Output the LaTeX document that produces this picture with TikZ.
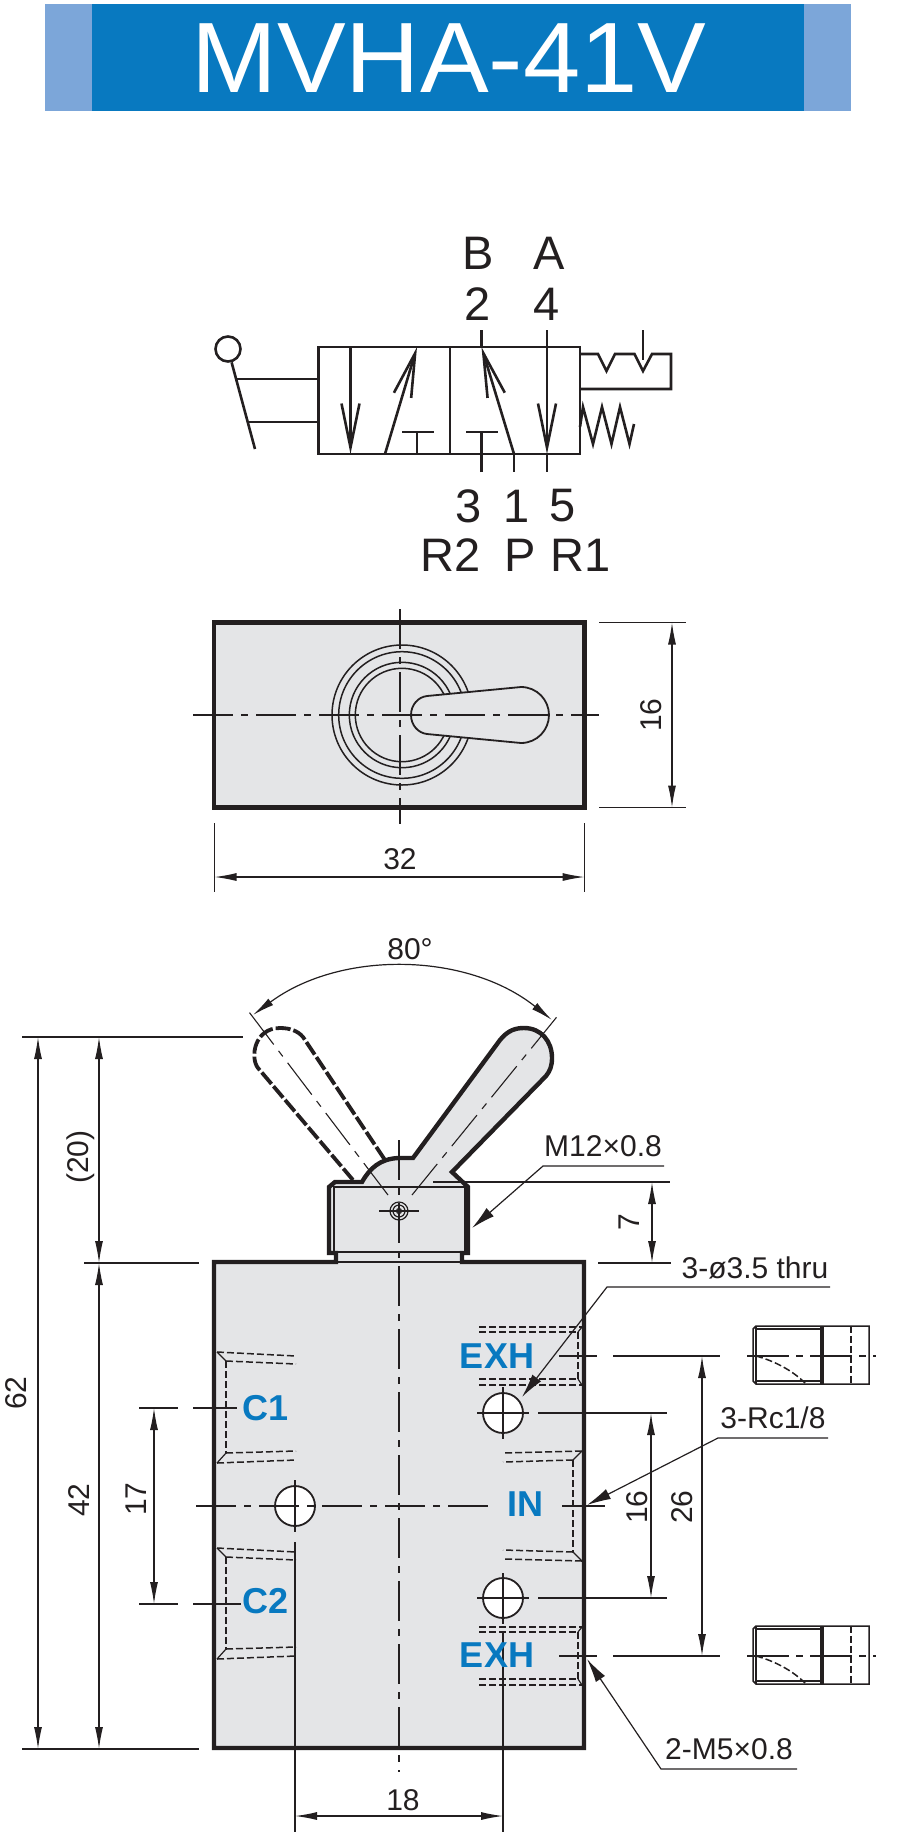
\documentclass[tikz,border=0pt]{standalone}
\usepackage{fontspec}
\setmainfont{Liberation Sans}
\usetikzlibrary{arrows.meta}
\definecolor{myblue}{HTML}{0879C0}
\definecolor{mylight}{HTML}{7CA6D9}
\definecolor{mygray}{HTML}{E4E5E7}
\definecolor{myink}{HTML}{231F20}
\tikzset{
  thinline/.style ={line width=1.2pt, color=myink},
  symline/.style ={line width=2.6pt, color=myink},
  bodyline/.style ={line width=4.4pt, color=myink, fill=mygray, miter limit=4},
  hiddenline/.style ={line width=1.5pt, color=myink, dash pattern=on 7pt off 3pt},
  ghostline/.style ={line width=3.8pt, color=myink, dash pattern=on 15pt off 3pt},
  centerline/.style ={line width=1.1pt, color=myink, dash pattern=on 40pt off 8pt on 7pt off 8pt},
  dimline/.style ={line width=1.2pt, color=myink, {Latex[length=22pt,width=8pt]}-{Latex[length=22pt,width=8pt]}},
  leaderline/.style ={line width=1.2pt, color=myink, -{Latex[length=24pt,width=11pt]}},
  symarrow/.style ={symline, -{Straight Barb[length=44pt,width=18pt]}},
  symtext/.style ={inner sep=0, text=myink, font=\fontsize{47}{50}\selectfont},
  dimtext/.style ={inner sep=0, text=myink, font=\fontsize{30}{33}\selectfont},
  porttext/.style ={inner sep=0, text=myblue, font=\fontsize{36}{38}\selectfont\bfseries},
}
\begin{document}
\begin{tikzpicture}[x=1pt, y=-1pt]
\useasboundingbox (0,0) rectangle (898,1832);
% title bar
\fill[mylight] (45,4) rectangle (851,111);
\fill[myblue] (92,4) rectangle (804,111);
\node[inner sep=0, text=white, xscale=1.03, font=\fontsize{100}{104}\selectfont] (titleBar) at (449,58) {MVHA-41V};

% valve symbol
\coordinate (boxA) at (318.5,347);
\coordinate (boxB) at (580,454);
\draw[symline] (boxA) rectangle (boxB);
\draw[symline] (450,347) -- (450,454);
\draw[symarrow] (350.5,347) -- (350.5,454);
\draw[symarrow] (385,454) -- (417,347);
\draw[symline] (417,454) -- (417,432) (402,432) -- (434,432);
\draw[symline] (481.5,472) -- (481.5,432) (466,432) -- (498,432);
\draw[symarrow] (514,454) -- (481.5,347);
\draw[symline] (481.5,330) -- (481.5,347);
\draw[symarrow] (547,330) -- (547,454);
\draw[symline] (547,454) -- (547,472) (514,454) -- (514,472);
\node[draw=myink, line width=2.6pt, circle, inner sep=0, minimum size=25pt] (leverBall) at (228,349) {};
\coordinate (leverEnd) at (255,449);
\draw[symline] (leverBall) -- (leverEnd);
\draw[symline] (236.5,379) -- (318.5,379) (249,422) -- (318.5,422);
\draw[symline] (580,354) -- (598,354) -- (606.5,371) -- (615,354) -- (634.5,354) -- (643,371) -- (652,354) -- (671,354) -- (671,389) -- (580,389);
\draw[symline] (643,330) -- (643,360);
\draw[symline] (580,427) -- (583,407) -- (593,444) -- (602,407) -- (611.5,444) -- (620,407) -- (629.5,444) -- (634,424);
\node[symtext] (noteB) at (478,253) {B};
\node[symtext] (noteA) at (549,253) {A};
\node[symtext] (noteTwo) at (478,304) {2};
\node[symtext] (noteFour) at (547,304) {4};
\node[symtext] (noteThree) at (469,506) {3};
\node[symtext] (noteOne) at (517,506) {1};
\node[symtext] (noteFive) at (563,506) {5};
\node[symtext] (noteRtwo) at (451,555) {R2};
\node[symtext] (noteP) at (520,555) {P};
\node[symtext] (noteRone) at (581,555) {R1};

% top view
\draw[bodyline] (214,622.5) rectangle (584.5,807.5);
\coordinate (topMid) at (402,715);
\foreach \r in {70,63.3,52.7,46.7} {
  \draw[thinline, line width=1.5pt] (topMid) circle[radius=\r pt];
}
\draw[symline, line width=1.8pt, fill=mygray] (427,696) -- (521,687) .. controls (537,687) and (549,700) .. (549,715) .. controls (549,730) and (537,743) .. (521,743) -- (427,734) .. controls (418,733) and (411,725) .. (411,715) .. controls (411,705) and (418,697) .. (427,696) -- cycle;
\draw[centerline] (193,715) -- (599,715);
\draw[centerline] (400,609) -- (400,824);
\draw[thinline] (599,622.5) -- (686,622.5) (599,807.5) -- (686,807.5);
\draw[thinline] (214.5,823) -- (214.5,892) (584.5,823) -- (584.5,892);
\coordinate (dimTa) at (672,622.5);
\coordinate (dimTb) at (672,807.5);
\coordinate (dimTc) at (214.5,877);
\coordinate (dimTd) at (584.5,877);
\draw[dimline] (dimTa) -- (dimTb);
\draw[dimline] (dimTc) -- (dimTd);
\node[dimtext, rotate=90] (noteHeight) at (651,715) {16};
\node[dimtext] (noteWidth) at (400,859) {32};

% front view
\draw[ghostline] (353,1180) -- (258,1068) .. controls (250,1058) and (254,1028) .. (280,1028) .. controls (290,1028) and (298,1031) .. (303,1037) -- (385,1160);
\draw[bodyline] (214,1262) -- (336,1262) -- (336,1253) -- (329,1253) -- (329,1187) -- (335,1182) -- (362,1182) .. controls (370,1168) and (380,1159) .. (398,1158) -- (413,1158) -- (500,1040) .. controls (508,1030) and (516,1028) .. (524,1028) .. controls (541,1028) and (552,1041) .. (552,1058) .. controls (552,1066) and (550,1071) .. (546,1076) -- (452,1172) -- (468,1187) -- (468,1253) -- (462,1253) -- (462,1262) -- (584,1262) -- (584,1748) -- (214,1748) -- cycle;
\draw[thinline] (338,1252) -- (461,1252) (338,1262) -- (461,1262);
\draw[thinline, line width=1.6pt] (333,1187) -- (465,1187);
\draw[thinline] (334,1187) -- (334,1253) (465,1187) -- (465,1253);
% left ports
\foreach \py in {0,196} {
  \draw[hiddenline] (217,1352+\py) -- (296,1356+\py) (226,1361+\py) -- (296,1364+\py);
  \draw[hiddenline] (217,1463+\py) -- (296,1460+\py) (226,1453+\py) -- (296,1451+\py);
  \draw[hiddenline] (226,1361+\py) -- (226,1453+\py);
  \draw[thinline] (217,1352+\py) -- (226,1361+\py) (217,1463+\py) -- (226,1453+\py);
}
% right ports
\draw[hiddenline] (582,1451) -- (503,1453) (573,1460) -- (503,1462);
\draw[hiddenline] (582,1561) -- (503,1559) (573,1552) -- (503,1550);
\draw[hiddenline] (573,1460) -- (573,1552);
\draw[thinline] (582,1451) -- (573,1460) (582,1561) -- (573,1552);
\foreach \py in {1356,1656} {
  \draw[hiddenline] (479,\py-29) -- (582,\py-29) (479,\py-24) -- (578,\py-24);
  \draw[hiddenline] (479,\py+23) -- (578,\py+23) (479,\py+29) -- (582,\py+29);
  \draw[hiddenline] (578,\py-24) -- (578,\py+23);
  \draw[thinline] (582,\py-29) -- (578,\py-24) (582,\py+29) -- (578,\py+23);
}
% holes
\draw[thinline, line width=1.8pt, fill=white] (295,1506) circle[radius=20pt];
\draw[thinline, line width=1.8pt, fill=white] (503,1413) circle[radius=20pt];
\draw[thinline, line width=1.8pt, fill=white] (503,1598) circle[radius=20pt];
\draw[thinline] (295,1480) -- (295,1532);
\draw[thinline] (503,1387) -- (503,1439) (503,1573) -- (503,1624);
\draw[thinline] (477,1413) -- (529,1413) (538,1413) -- (667,1413);
\draw[thinline] (477,1598) -- (529,1598) (538,1598) -- (667,1598);
\draw[thinline] (295,1542) -- (295,1832) (503,1633) -- (503,1832);
% center lines
\draw[centerline] (196,1506) -- (495,1506);
\draw[thinline] (562,1506) -- (605,1506);
\draw[centerline] (399,1140) -- (399,1772);
\draw[centerline] (412,1195) -- (560,1013);
\draw[centerline] (388,1195) -- (246,1008);
% pivot
\coordinate (pivot) at (399,1211);
\draw[thinline] (pivot) circle[radius=9pt] (pivot) circle[radius=6pt] (pivot) circle[radius=2.5pt];
\draw[thinline] (379,1211) -- (419,1211);
% angle
\coordinate (angA) at (253,1015);
\coordinate (angB) at (552,1020);
\draw[dimline] (angA) .. controls (340.5,950) and (467,952) .. (angB);
\node[dimtext] (noteAngle) at (410,949) {80°};

% extension lines
\draw[thinline] (22,1037) -- (243,1037) (84,1263) -- (199,1263) (22,1749) -- (199,1749);
\draw[thinline] (433,1182) -- (670,1182) (598,1263) -- (671,1263);
\draw[thinline] (139,1408) -- (178,1408) (193,1408) -- (237,1408);
\draw[thinline] (139,1604) -- (178,1604) (193,1604) -- (241,1604);
\foreach \py in {1356,1656} {
  \draw[thinline] (559,\py) -- (597,\py) (613,\py) -- (720,\py);
}
% dimensions
\coordinate (dimLa) at (38,1037);
\coordinate (dimLb) at (38,1749);
\coordinate (dimMa) at (99,1037);
\coordinate (dimMb) at (99,1263);
\coordinate (dimMc) at (99,1749);
\coordinate (dimNa) at (154,1408);
\coordinate (dimNb) at (154,1604);
\coordinate (dimSa) at (652,1182);
\coordinate (dimSb) at (652,1263);
\coordinate (dimRa) at (651,1413);
\coordinate (dimRb) at (651,1598);
\coordinate (dimQa) at (702,1356);
\coordinate (dimQb) at (702,1656);
\coordinate (dimBa) at (295,1816);
\coordinate (dimBb) at (503,1816);
\draw[dimline] (dimLa) -- (dimLb);
\draw[dimline] (dimMa) -- (dimMb);
\draw[dimline] (dimMb) -- (dimMc);
\draw[dimline] (dimNa) -- (dimNb);
\draw[dimline] (dimSa) -- (dimSb);
\draw[dimline] (dimRa) -- (dimRb);
\draw[dimline] (dimQa) -- (dimQb);
\draw[dimline] (dimBa) -- (dimBb);
\node[dimtext, rotate=90] (noteTotal) at (16,1393) {62};
\node[dimtext, rotate=90] (noteLever) at (81,1157) {(20)};
\node[dimtext, rotate=90] (noteBody) at (79,1500) {42};
\node[dimtext, rotate=90] (notePorts) at (136,1499) {17};
\node[dimtext, rotate=90] (noteNeck) at (629,1222) {7};
\node[dimtext, rotate=90] (noteHoles) at (637,1507) {16};
\node[dimtext, rotate=90] (noteExh) at (682,1507) {26};
\node[dimtext] (notePitch) at (403,1800) {18};

% leaders
\node[dimtext] (noteThread) at (603,1146) {M12×0.8};
\node[dimtext] (noteThru) at (755,1268) {3-ø3.5 thru};
\node[dimtext] (noteRc) at (773,1418) {3-Rc1/8};
\node[dimtext] (noteMfive) at (729,1749) {2-M5×0.8};
\coordinate (leadAa) at (664,1166);
\coordinate (leadAb) at (543,1166);
\coordinate (leadAc) at (472,1228);
\coordinate (leadBa) at (830,1287);
\coordinate (leadBb) at (607,1287);
\coordinate (leadBc) at (522,1397);
\coordinate (leadCa) at (828,1438);
\coordinate (leadCb) at (718,1438);
\coordinate (leadCc) at (587,1505);
\coordinate (leadDa) at (797,1769);
\coordinate (leadDb) at (661,1769);
\coordinate (leadDc) at (587,1659);
\draw[leaderline] (leadAa) -- (leadAb) -- (leadAc);
\draw[leaderline] (leadBa) -- (leadBb) -- (leadBc);
\draw[leaderline] (leadCa) -- (leadCb) -- (leadCc);
\draw[leaderline] (leadDa) -- (leadDb) -- (leadDc);

% port labels
\node[porttext] (noteCone) at (266,1408) {C1};
\node[porttext] (noteCtwo) at (266,1601) {C2};
\node[porttext] (noteIn) at (525,1504) {IN};
\node[porttext] (noteExhA) at (497,1356) {EXH};
\node[porttext] (noteExhB) at (497,1655) {EXH};

% plugs
\foreach \py in {1356,1656} {
  \draw[thinline, line width=1.5pt] (756,\py-30) -- (869,\py-30) -- (869,\py+28) -- (756,\py+28) -- (753,\py+25) -- (753,\py-27) -- cycle;
  \draw[thinline, line width=1.5pt] (756,\py-30) -- (756,\py+28);
  \draw[thinline, line width=2pt] (821,\py-30) -- (821,\py+28);
  \draw[thinline] (823,\py-30) -- (823,\py+28);
  \draw[thinline, line width=1.5pt] (756,\py-27) -- (821,\py-27) (756,\py+25) -- (821,\py+25);
  \draw[hiddenline, line width=1.5pt] (851,\py-30) -- (851,\py+28);
  \draw[thinline, dash pattern=on 42pt off 7pt on 7pt off 7pt] (747,\py) -- (876,\py);
  \draw[hiddenline] (756,\py) .. controls (775,\py+5) and (793,\py+15) .. (805,\py+27);
}
\end{tikzpicture}
\end{document}
